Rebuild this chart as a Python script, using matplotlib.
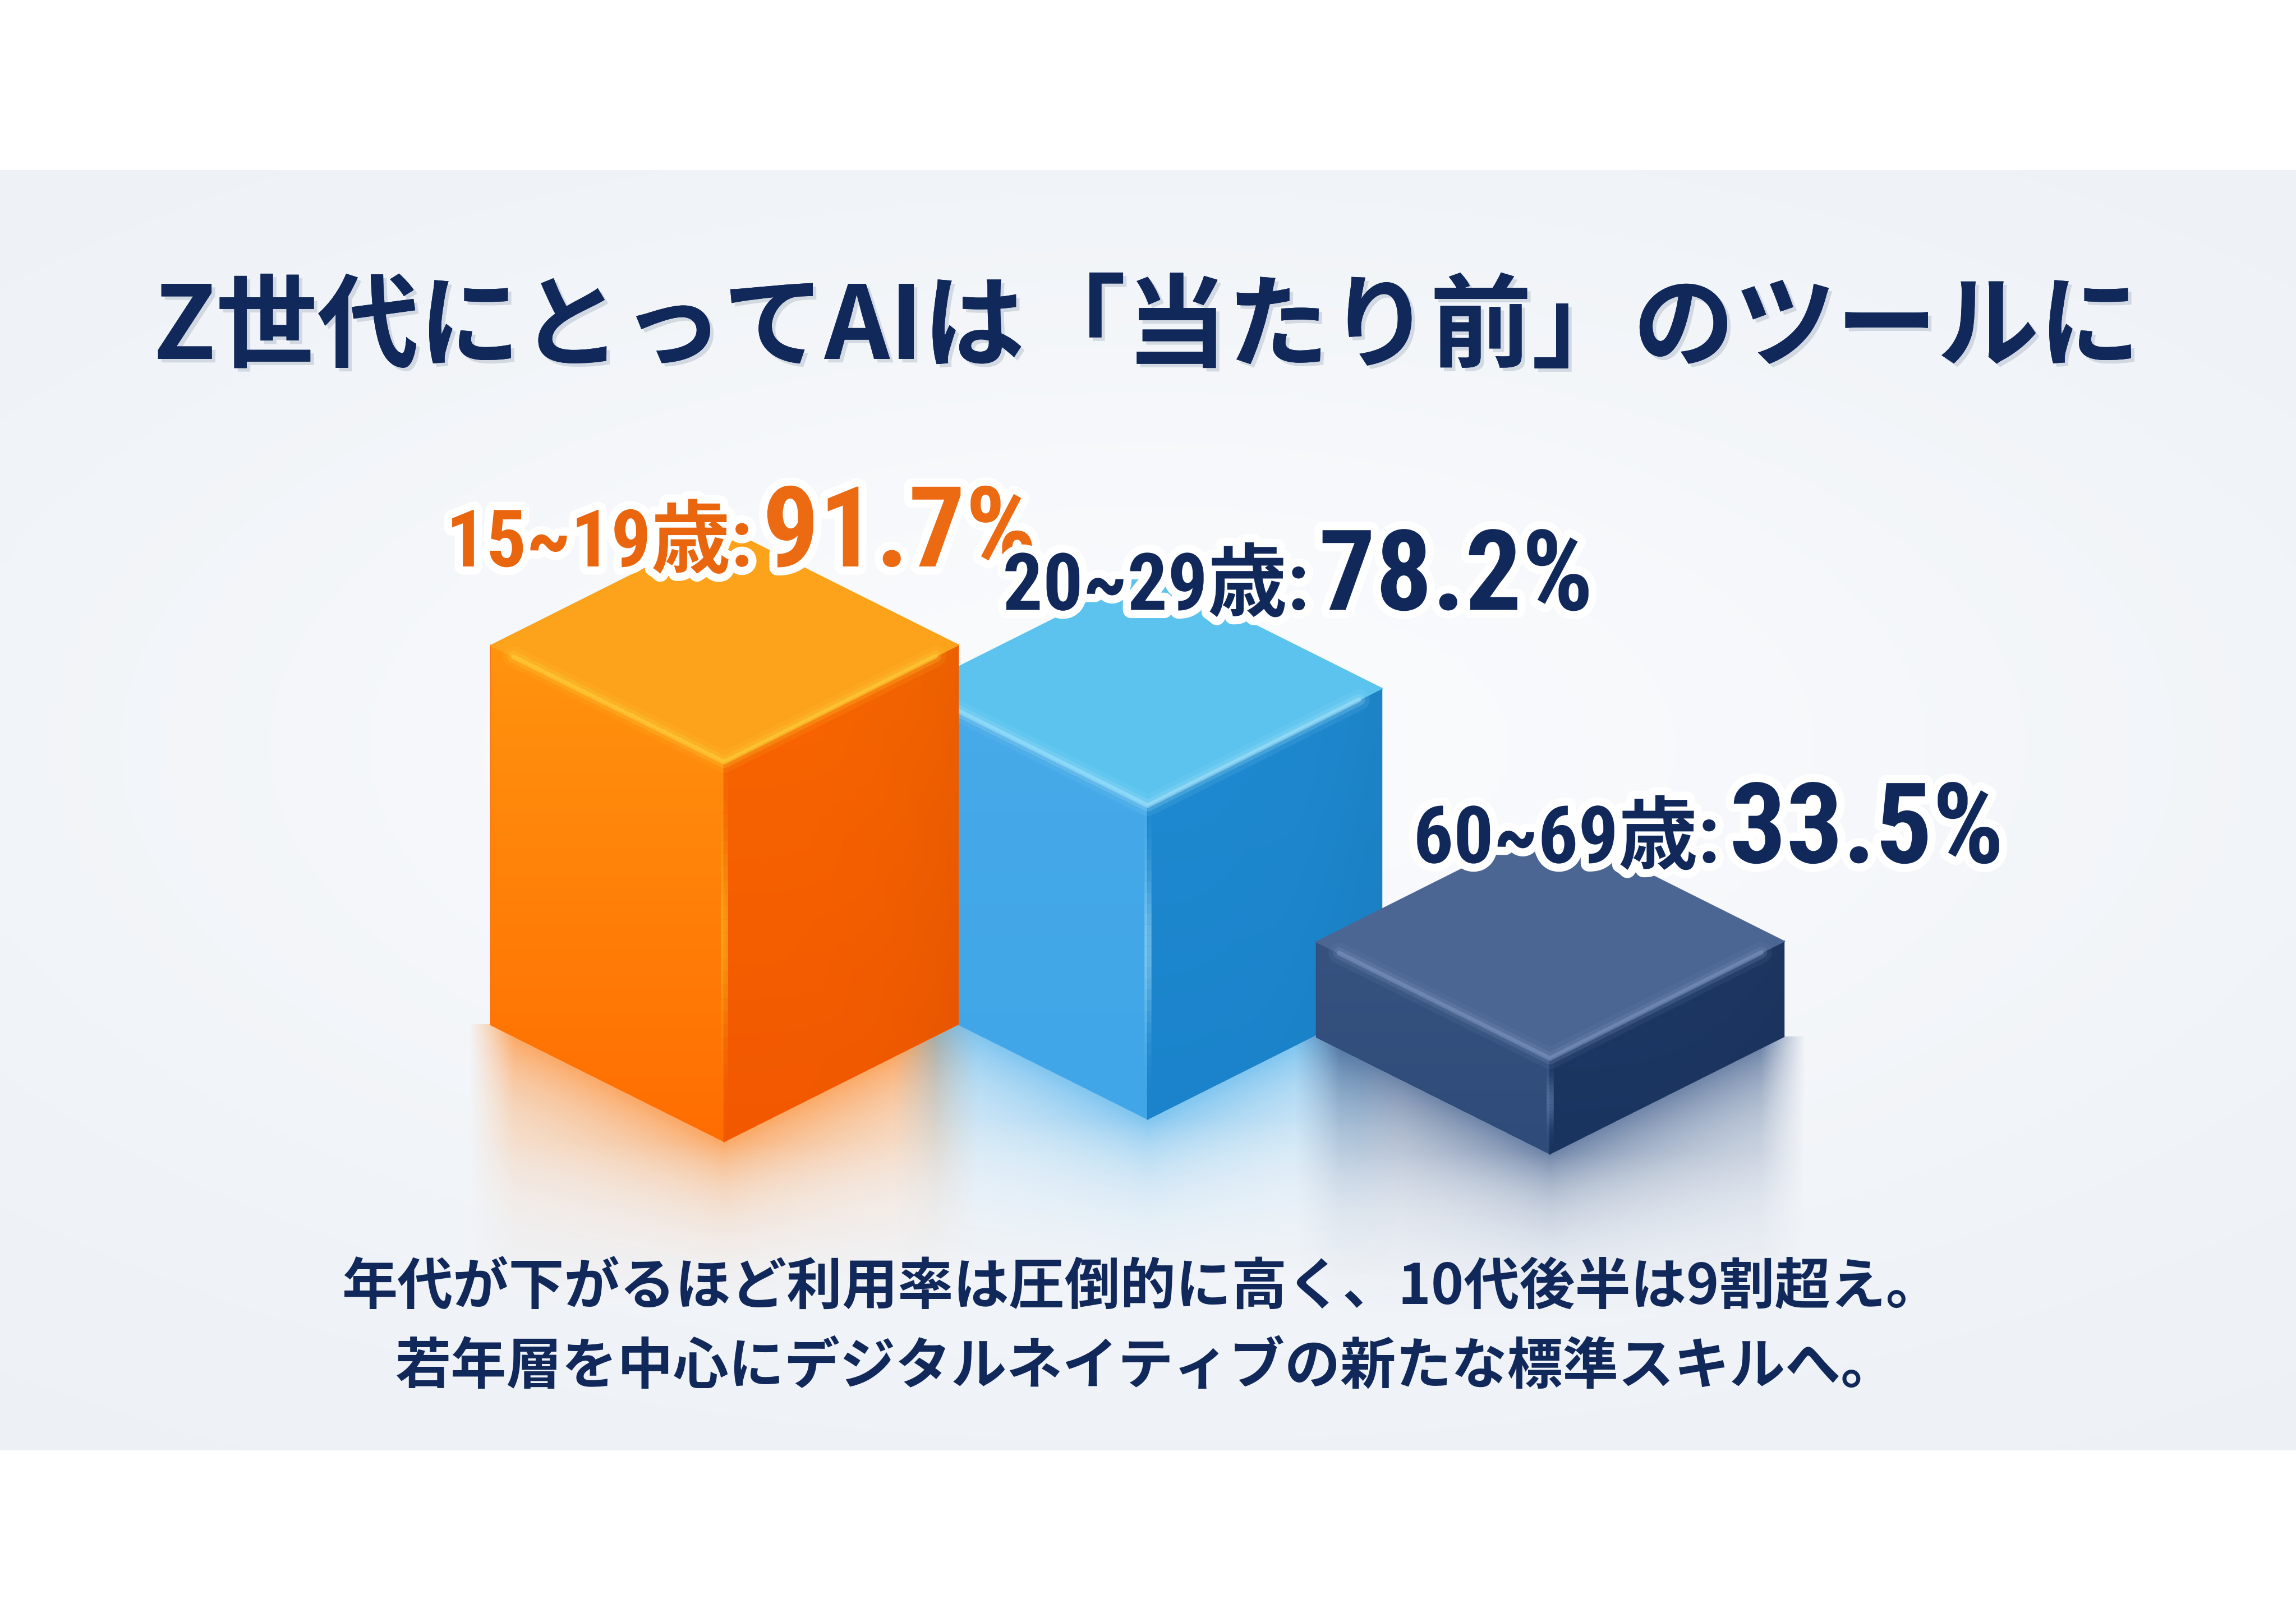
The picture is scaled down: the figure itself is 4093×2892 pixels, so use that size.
import numpy as np
import matplotlib
matplotlib.use('Agg')
import matplotlib.pyplot as plt
from matplotlib.patches import Polygon
from matplotlib.colors import to_rgb
import matplotlib.patheffects as pe
from matplotlib import font_manager as fm

# --- data ---
title = 'Z世代にとってAIは「当たり前」のツールに'
age_groups = ['15~19歳:', '20~29歳:', '60~69歳:']
usage_rate = [91.7, 78.2, 33.5]
notes = ['年代が下がるほど利用率は圧倒的に高く、10代後半は9割超え。',
         '若年層を中心にデジタルネイティブの新たな標準スキルへ。']

# --- layout (pixel canvas, y grows downward) ---
W, H = 4093, 2892
ground = [(1291, 2035), (2046, 1995), (2763, 2057)]   # front-bottom corner of each block
left_vec = (-416, -208)
right_vec = (417, -209)
label_split_x = [1347, 2339, 3071]
axis_floor = 14.0      # value at which a block has zero height
px_per_pt = 8.7

NAVY = '#11285A'
styles = [
    dict(top='#FCA31B', left=('#FF940F', '#FF6D02'), right=('#F86600', '#F25800'),
         edge='#FFD23A', glow='#FFC21E', refl='#FF8A2A', lab='#E9650E', val='#EC6A12'),
    dict(top='#5CC3EF', left=('#47AAE9', '#40A6E7'), right=('#1F8AD1', '#1A83CB'),
         edge='#A5E3FA', glow='#9FDDF7', refl='#52B2EC', lab=NAVY, val=NAVY),
    dict(top='#4B6693', left=('#36527F', '#2F4B79'), right=('#1E3965', '#1A3460'),
         edge='#7D97C0', glow='#6A86B4', refl='#3A5888', lab=NAVY, val=NAVY),
]

JP = 'Noto Sans CJK JP'
names = {f.name for f in fm.fontManager.ttflist}
label_family = [JP, 'DejaVu Sans']
small_fs, big_fs = 29, 39
for cand in ['Roboto Condensed', 'Liberation Sans Narrow']:
    if cand in names:
        label_family = [cand, JP]
        small_fs, big_fs = 34, 48
        break


def face_image(ax, poly, c_top, c_bot, z, side_dark=0.0):
    poly = np.asarray(poly, float)
    patch = Polygon(poly, closed=True, facecolor=c_bot, edgecolor=c_bot, lw=0.6, zorder=z)
    ax.add_patch(patch)
    x0, x1 = poly[:, 0].min(), poly[:, 0].max()
    y0, y1 = poly[:, 1].min(), poly[:, 1].max()
    v = np.linspace(0, 1, 200)[:, None, None]
    u = np.linspace(0, 1, 200)[None, :, None]
    c1, c2 = np.array(to_rgb(c_top)), np.array(to_rgb(c_bot))
    img = (c1 + (c2 - c1) * v) * (1 - side_dark * u ** 3)
    img = np.clip(img * np.ones((200, 200, 1)), 0, 1)
    im = ax.imshow(img, extent=(x0, x1, y1, y0), origin='upper', aspect='auto',
                   interpolation='bilinear', zorder=z)
    im.set_clip_path(patch)


def reflection(ax, F, L, R, color, z, depth=300, a0=0.5):
    x0, x1 = F[0] + L[0], F[0] + R[0]
    ytop = F[1] + min(L[1], R[1])
    y1 = F[1] + depth
    xs = np.linspace(x0 - 40, x1 + 40, 300)
    ys = np.linspace(ytop, y1, 300)
    X, Y = np.meshgrid(xs, ys)
    yb = np.where(X < F[0], F[1] + (X - F[0]) / L[0] * L[1], F[1] + (X - F[0]) / R[0] * R[1])
    d = Y - yb
    a = np.where(d > 0, a0 * np.exp(-d / 110.0) + 0.22 * np.exp(-d / 320.0), 0)
    edge = np.clip(np.minimum(X - x0 + 40, x1 + 40 - X) / 80.0, 0, 1)
    a = a * edge * np.clip((y1 - Y) / (y1 - F[1]), 0, 1)
    img = np.zeros(X.shape + (4,))
    img[..., :3] = np.array(to_rgb(color))
    img[..., 3] = np.clip(a, 0, 1)
    ax.imshow(img, extent=(xs[0], xs[-1], y1, ytop), origin='upper', aspect='auto',
              interpolation='bilinear', zorder=z)


fig = plt.figure(figsize=(W / 300, H / 300), dpi=300)
fig.patch.set_facecolor('white')
ax = fig.add_axes([0, 0, 1, 1])
ax.set_axis_off()

# light backdrop panel
py0, py1 = 303, 2586
gx = np.linspace(-1, 1, 400)[None, :]
gy = np.linspace(-1, 1, 200)[:, None]
r2 = (gx * 0.9) ** 2 + ((gy + 0.1) * 1.1) ** 2
edge_c, mid_c = np.array(to_rgb('#EDF1F6')), np.array(to_rgb('#FAFBFD'))
bg = edge_c + (mid_c - edge_c) * np.exp(-r2 * 1.3)[..., None]
ax.imshow(np.clip(bg, 0, 1), extent=(0, W, py1, py0), origin='upper', aspect='auto',
          interpolation='bilinear', zorder=0)

heights = [(v - axis_floor) * px_per_pt for v in usage_rate]
order = np.argsort([g[1] for g in ground])   # draw back-most block first

for i in range(len(usage_rate)):
    reflection(ax, ground[i], left_vec, right_vec, styles[i]['refl'], z=1)

tops = {}
for rank, i in enumerate(order):
    st = styles[i]
    z = 3 + rank * 3
    fx, fy = ground[i]
    h = heights[i]
    Fb = np.array([fx, fy], float)
    Lb = Fb + left_vec
    Rb = Fb + right_vec
    up = np.array([0, -h])
    Ft, Lt, Rt = Fb + up, Lb + up, Rb + up
    Bt = Ft + np.array(left_vec) + np.array(right_vec)
    tops[i] = Bt

    face_image(ax, [Lt, Ft, Fb, Lb], st['left'][0], st['left'][1], z)
    face_image(ax, [Ft, Rt, Rb, Fb], st['right'][0], st['right'][1], z, side_dark=0.05)
    ax.add_patch(Polygon([Lt, Bt, Rt, Ft], closed=True, facecolor=st['top'],
                         edgecolor=st['top'], lw=0.6, zorder=z + 0.5))

    # glossy highlights on the front edges
    for lw, al in [(9, 0.10), (5, 0.22), (2, 0.55)]:
        ax.plot([Lt[0] + 40, Ft[0], Rt[0] - 40], [Lt[1] + 20, Ft[1], Rt[1] + 20],
                color=st['edge'], lw=lw, alpha=al, zorder=z + 1, solid_capstyle='round')
    segs = np.linspace(0, 1, 30)
    for k in range(len(segs) - 1):
        t = 0.5 * (segs[k] + segs[k + 1])
        al = 0.55 * np.exp(-((t - 0.45) / 0.25) ** 2)
        ax.plot([Ft[0], Ft[0]], [Ft[1] + segs[k] * h, Ft[1] + segs[k + 1] * h],
                color=st['glow'], lw=3, alpha=al, zorder=z + 1, solid_capstyle='butt')

# value labels
halo = [pe.withStroke(linewidth=7, foreground='white')]
for i in range(len(usage_rate)):
    st = styles[i]
    base_y = tops[i][1] + 68
    sx = label_split_x[i]
    ax.text(sx - 6, base_y, age_groups[i], ha='right', va='baseline', fontsize=small_fs,
            fontweight='bold', color=st['lab'], family=label_family, path_effects=halo, zorder=20)
    ax.text(sx + 12, base_y, f'{usage_rate[i]:.1f}%', ha='left', va='baseline', fontsize=big_fs,
            fontweight='bold', color=st['val'], family=label_family, path_effects=halo, zorder=20)

# title and notes
shadow = [pe.withSimplePatchShadow(offset=(1.5, -1.5), shadow_rgbFace='#9AA6B8', alpha=0.35),
          pe.Normal()]
ax.text(2044, 640, title, ha='center', va='baseline', fontsize=43.4, fontweight='bold',
        color=NAVY, family=[JP, 'DejaVu Sans'], path_effects=shadow, zorder=20)
ax.text(2035, 2325, notes[0], ha='center', va='baseline', fontsize=23.8, fontweight='bold',
        color=NAVY, family=[JP, 'DejaVu Sans'], zorder=20)
ax.text(2042, 2467, notes[1], ha='center', va='baseline', fontsize=23.8, fontweight='bold',
        color=NAVY, family=[JP, 'DejaVu Sans'], zorder=20)

ax.set_xlim(0, W)
ax.set_ylim(H, 0)
fig.savefig('out.png', dpi=300, facecolor='white')
